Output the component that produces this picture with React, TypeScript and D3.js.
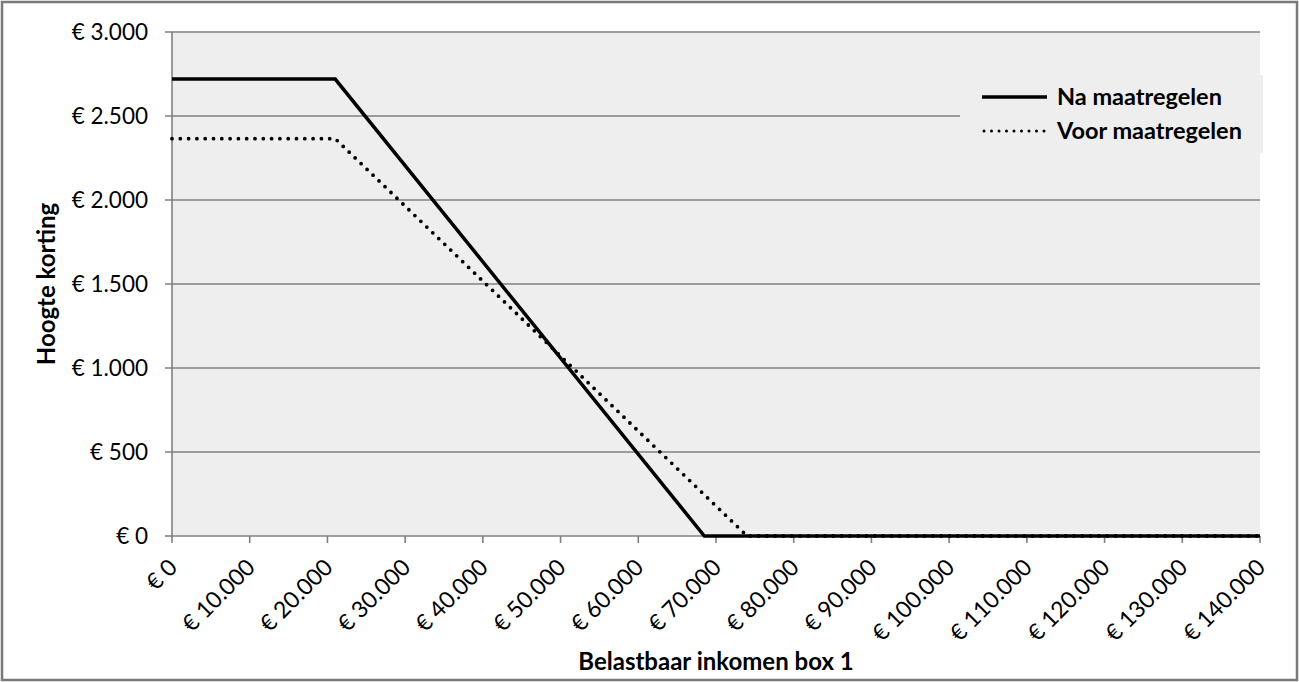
import React from "react";
import * as d3 from "d3";

const naIncome = [0, 21000, 68500, 140000];
const naValues = [2720, 2720, 0, 0];
const voorIncome = [0, 21000, 74000, 140000];
const voorValues = [2365, 2365, 0, 0];
const yTicks = [0, 500, 1000, 1500, 2000, 2500, 3000];
const xTicks = [0, 10000, 20000, 30000, 40000, 50000, 60000, 70000, 80000, 90000, 100000, 110000, 120000, 130000, 140000];
const seriesNames = ["Na maatregelen", "Voor maatregelen"];

const W = 1299, H = 682;
const left = 172, right = 1260, top = 32, bottom = 536;
const FONT = "Lato, 'Open Sans', sans-serif";

const fmt = (v: number) => "€ " + d3.format(",")(v).replace(/,/g, ".");

export default function App() {
  const x = d3.scaleLinear().domain([0, 140000]).range([left, right]);
  const y = d3.scaleLinear().domain([0, 3000]).range([bottom, top]);
  const line = d3.line<[number, number]>().x(d => x(d[0])).y(d => y(d[1]));
  const naPts = naIncome.map((v, i) => [v, naValues[i]] as [number, number]);
  const voorPts = voorIncome.map((v, i) => [v, voorValues[i]] as [number, number]);
  return (
    <svg width={W} height={H} style={{ position: "absolute", left: 0, top: 0, display: "block", background: "#fff" }}>
      <rect x={2} y={2} width={W - 4} height={H - 4} fill="#fff" stroke="#7a7a7a" strokeWidth={2.5} />
      <rect x={left} y={top} width={right - left} height={bottom - top} fill="#eeeeee" />
      {yTicks.map(t => (
        <g key={t}>
          <line x1={left - 7} x2={t === 0 ? left : right} y1={y(t)} y2={y(t)} stroke="#808080" strokeWidth={1.6} />
          <text x={left - 24} y={y(t)} dy="0.35em" textAnchor="end" fontFamily={FONT} fontSize={22.5} fill="#000">{fmt(t)}</text>
        </g>
      ))}
      <line x1={left} x2={left} y1={top} y2={bottom} stroke="#808080" strokeWidth={1.6} />
      <line x1={left} x2={right} y1={bottom} y2={bottom} stroke="#808080" strokeWidth={1.6} />
      {xTicks.map(t => (
        <g key={t}>
          <line x1={x(t)} x2={x(t)} y1={bottom} y2={bottom + 7} stroke="#808080" strokeWidth={1.6} />
          <text transform={`translate(${x(t) + 1},${bottom + 27}) rotate(-45)`} textAnchor="end" dy="0.35em" fontFamily={FONT} fontSize={23} fill="#000">{fmt(t)}</text>
        </g>
      ))}
      <rect x={960} y={75} width={303} height={78} fill="#eeeeee" />
      <path d={line(naPts) || ""} fill="none" stroke="#000" strokeWidth={3.5} strokeLinejoin="miter" />
      <path d={line(voorPts) || ""} fill="none" stroke="#000" strokeWidth={3.8} strokeDasharray="0 8.3" strokeLinecap="round" />
      <line x1={982} x2={1047} y1={97} y2={97} stroke="#000" strokeWidth={3.5} />
      <line x1={984} x2={1047} y1={131} y2={131} stroke="#000" strokeWidth={3} strokeDasharray="0 7.5" strokeLinecap="round" />
      <text x={1057} y={97} dy="0.35em" fontFamily={FONT} fontSize={23.5} fontWeight="bold">{seriesNames[0]}</text>
      <text x={1057} y={131} dy="0.35em" fontFamily={FONT} fontSize={23.5} fontWeight="bold">{seriesNames[1]}</text>
      <text transform={`translate(47,${(top + bottom) / 2}) rotate(-90)`} textAnchor="middle" dy="0.35em" fontFamily={FONT} fontSize={24} fontWeight="bold">Hoogte korting</text>
      <text x={716} y={662} textAnchor="middle" dy="0.35em" fontFamily={FONT} fontSize={24} fontWeight="bold">Belastbaar inkomen box 1</text>
    </svg>
  );
}
